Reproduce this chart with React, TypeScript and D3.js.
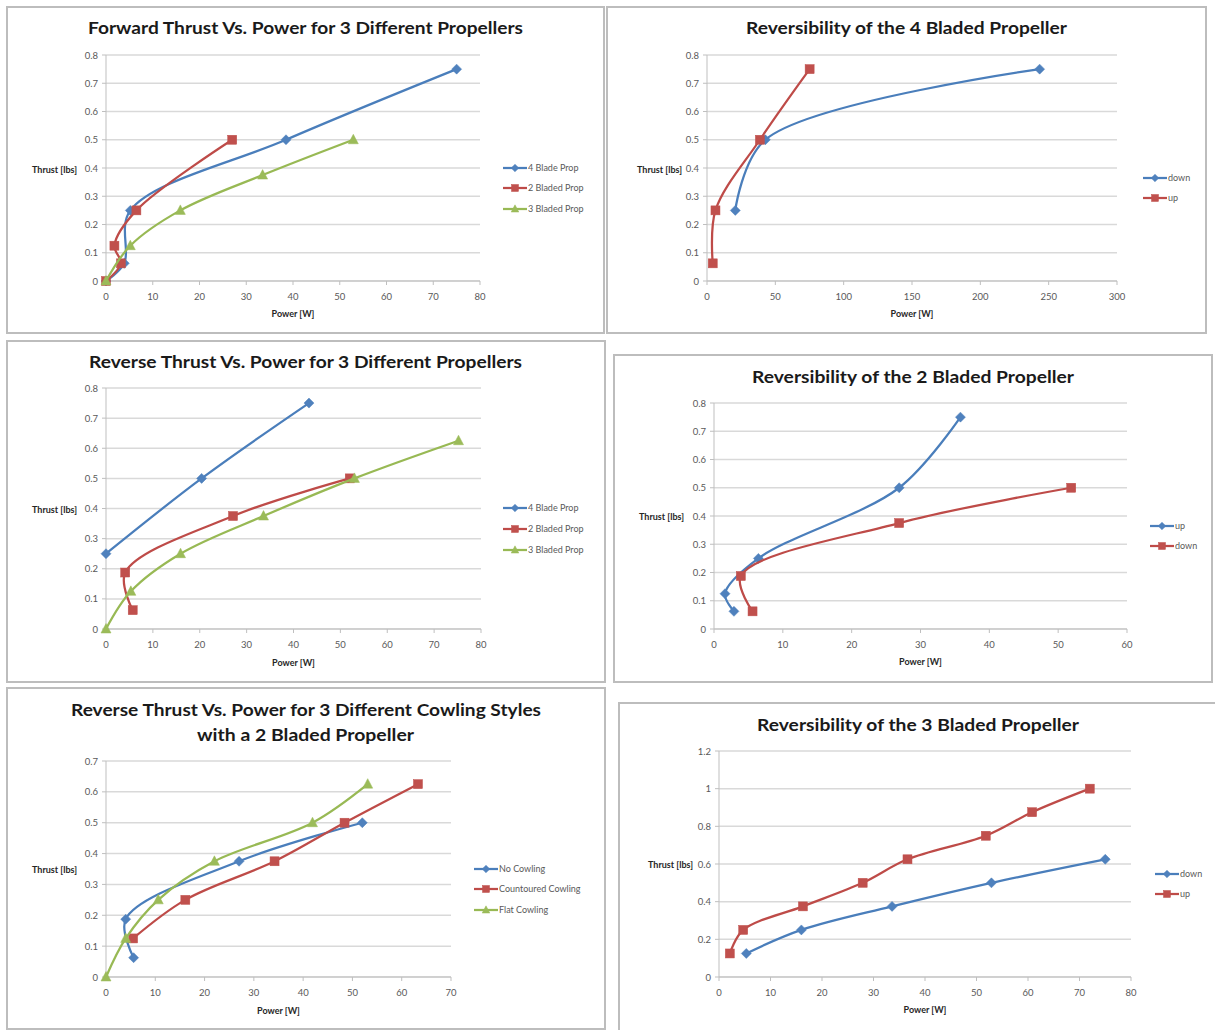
import React from 'react';
import * as d3 from 'd3';

// ---------- colours ----------
const BLUE_LINE = '#4A7EBB';
const BLUE_MK = '#4F81BD';
const RED_LINE = '#BE4B48';
const RED_MK = '#C0504D';
const GREEN_LINE = '#98B954';
const GREEN_MK = '#9BBB59';

// ---------- data: Forward thrust, 3 propellers ----------
const fwd4BladeX = [0, 3.9, 5.2, 38.5, 75];
const fwd4BladeY = [0, 0.0625, 0.25, 0.5, 0.75];
const fwd2BladedX = [0, 3.2, 1.8, 6.5, 27];
const fwd2BladedY = [0, 0.0625, 0.125, 0.25, 0.5];
const fwd3BladedX = [0, 5.2, 15.9, 33.5, 52.9];
const fwd3BladedY = [0, 0.125, 0.25, 0.375, 0.5];

// ---------- data: Reversibility 4 bladed ----------
const rev4DownX = [20.7, 42.7, 243.4];
const rev4DownY = [0.25, 0.5, 0.75];
const rev4UpX = [4.2, 6.2, 38.7, 75.1];
const rev4UpY = [0.0625, 0.25, 0.5, 0.75];

// ---------- data: Reverse thrust, 3 propellers ----------
const rvs4BladeX = [0, 20.4, 43.3];
const rvs4BladeY = [0.25, 0.5, 0.75];
const rvs2BladedX = [5.7, 4.1, 27.1, 52];
const rvs2BladedY = [0.0625, 0.1875, 0.375, 0.5];
const rvs3BladedX = [0, 5.3, 15.9, 33.6, 53, 75.2];
const rvs3BladedY = [0, 0.125, 0.25, 0.375, 0.5, 0.625];

// ---------- data: Reversibility 2 bladed ----------
const rev2UpX = [2.9, 1.6, 6.45, 26.9, 35.8];
const rev2UpY = [0.0625, 0.125, 0.25, 0.5, 0.75];
const rev2DownX = [5.6, 3.9, 26.9, 51.9];
const rev2DownY = [0.0625, 0.1875, 0.375, 0.5];

// ---------- data: Cowling styles ----------
const cowNoX = [5.6, 4.0, 27.0, 52.0];
const cowNoY = [0.0625, 0.1875, 0.375, 0.5];
const cowContX = [5.5, 16.1, 34.2, 48.4, 63.3];
const cowContY = [0.125, 0.25, 0.375, 0.5, 0.625];
const cowFlatX = [0, 4.0, 10.6, 22.0, 41.9, 53.1];
const cowFlatY = [0, 0.125, 0.25, 0.375, 0.5, 0.625];

// ---------- data: Reversibility 3 bladed ----------
const rev3DownX = [5.3, 16.0, 33.6, 52.9, 75.0];
const rev3DownY = [0.125, 0.25, 0.375, 0.5, 0.625];
const rev3UpX = [2.1, 4.7, 16.3, 27.9, 36.6, 51.8, 60.8, 72.0];
const rev3UpY = [0.125, 0.25, 0.375, 0.5, 0.625, 0.75, 0.875, 1.0];

// ---------- axis ticks ----------
const ticksX80 = [0, 10, 20, 30, 40, 50, 60, 70, 80];
const ticksX300 = [0, 50, 100, 150, 200, 250, 300];
const ticksX60 = [0, 10, 20, 30, 40, 50, 60];
const ticksX70 = [0, 10, 20, 30, 40, 50, 60, 70];
const ticksY08 = [0, 0.1, 0.2, 0.3, 0.4, 0.5, 0.6, 0.7, 0.8];
const ticksY07 = [0, 0.1, 0.2, 0.3, 0.4, 0.5, 0.6, 0.7];
const ticksY12 = [0, 0.2, 0.4, 0.6, 0.8, 1.0, 1.2];

const titles1 = ['Forward Thrust Vs. Power for 3 Different Propellers'];
const titles2 = ['Reversibility of the 4 Bladed Propeller'];
const titles3 = ['Reverse Thrust Vs. Power for 3 Different Propellers'];
const titles4 = ['Reversibility of the 2 Bladed Propeller'];
const titles5 = ['Reverse Thrust Vs. Power for 3 Different Cowling Styles', 'with a 2 Bladed Propeller'];
const titles6 = ['Reversibility of the 3 Bladed Propeller'];

type Shape = 'diamond' | 'square' | 'triangle';
type Series = { name: string; xs: number[]; ys: number[]; line: string; mk: string; shape: Shape };

const S = (name: string, xs: number[], ys: number[], kind: 'b' | 'r' | 'g'): Series => ({
  name,
  xs,
  ys,
  line: kind === 'b' ? BLUE_LINE : kind === 'r' ? RED_LINE : GREEN_LINE,
  mk: kind === 'b' ? BLUE_MK : kind === 'r' ? RED_MK : GREEN_MK,
  shape: kind === 'b' ? 'diamond' : kind === 'r' ? 'square' : 'triangle',
});

type Panel = {
  box: [number, number, number, number];
  plot: [number, number, number, number]; // x0, x1, yTop, yBottom
  xMax: number;
  yMax: number;
  xTicks: number[];
  yTicks: number[];
  titles: string[];
  titleLayout: { cx: number; cy: number; w: number }[];
  yTitle: { xEnd: number; y: number };
  xTitleY: number;
  legend: { x: number; y: number[] };
  series: Series[];
};

const panels: Panel[] = [
  {
    box: [7, 7, 597, 326],
    plot: [106, 480, 55, 281],
    xMax: 80, yMax: 0.8, xTicks: ticksX80, yTicks: ticksY08,
    titles: titles1,
    titleLayout: [{ cx: 305.5, cy: 28, w: 435 }],
    yTitle: { xEnd: 77, y: 169 }, xTitleY: 313,
    legend: { x: 503, y: [168, 188, 209] },
    series: [
      S('4 Blade Prop', fwd4BladeX, fwd4BladeY, 'b'),
      S('2 Bladed Prop', fwd2BladedX, fwd2BladedY, 'r'),
      S('3 Bladed Prop', fwd3BladedX, fwd3BladedY, 'g'),
    ],
  },
  {
    box: [607, 7, 599, 326],
    plot: [707, 1117, 55, 281],
    xMax: 300, yMax: 0.8, xTicks: ticksX300, yTicks: ticksY08,
    titles: titles2,
    titleLayout: [{ cx: 906.5, cy: 28, w: 321 }],
    yTitle: { xEnd: 682, y: 169 }, xTitleY: 313,
    legend: { x: 1143, y: [178, 198] },
    series: [
      S('down', rev4DownX, rev4DownY, 'b'),
      S('up', rev4UpX, rev4UpY, 'r'),
    ],
  },
  {
    box: [7, 341, 598, 341],
    plot: [106, 481, 388, 629],
    xMax: 80, yMax: 0.8, xTicks: ticksX80, yTicks: ticksY08,
    titles: titles3,
    titleLayout: [{ cx: 305.5, cy: 362, w: 433 }],
    yTitle: { xEnd: 77, y: 509 }, xTitleY: 662,
    legend: { x: 503, y: [508, 529, 550] },
    series: [
      S('4 Blade Prop', rvs4BladeX, rvs4BladeY, 'b'),
      S('2 Bladed Prop', rvs2BladedX, rvs2BladedY, 'r'),
      S('3 Bladed Prop', rvs3BladedX, rvs3BladedY, 'g'),
    ],
  },
  {
    box: [614, 355, 598, 327],
    plot: [714, 1127, 403, 629],
    xMax: 60, yMax: 0.8, xTicks: ticksX60, yTicks: ticksY08,
    titles: titles4,
    titleLayout: [{ cx: 913, cy: 377, w: 322 }],
    yTitle: { xEnd: 684, y: 516 }, xTitleY: 661,
    legend: { x: 1150, y: [526, 546] },
    series: [
      S('up', rev2UpX, rev2UpY, 'b'),
      S('down', rev2DownX, rev2DownY, 'r'),
    ],
  },
  {
    box: [7, 688, 598, 341],
    plot: [106, 451, 761, 977],
    xMax: 70, yMax: 0.7, xTicks: ticksX70, yTicks: ticksY07,
    titles: titles5,
    titleLayout: [{ cx: 306, cy: 710, w: 470 }, { cx: 305.5, cy: 735, w: 217 }],
    yTitle: { xEnd: 77, y: 869 }, xTitleY: 1010,
    legend: { x: 474, y: [869, 889, 910] },
    series: [
      S('No Cowling', cowNoX, cowNoY, 'b'),
      S('Countoured Cowling', cowContX, cowContY, 'r'),
      S('Flat Cowling', cowFlatX, cowFlatY, 'g'),
    ],
  },
  {
    box: [619, 703, 600, 330],
    plot: [719, 1131, 751, 977],
    xMax: 80, yMax: 1.2, xTicks: ticksX80, yTicks: ticksY12,
    titles: titles6,
    titleLayout: [{ cx: 918, cy: 725, w: 322 }],
    yTitle: { xEnd: 693, y: 864 }, xTitleY: 1009,
    legend: { x: 1155, y: [874, 894] },
    series: [
      S('down', rev3DownX, rev3DownY, 'b'),
      S('up', rev3UpX, rev3UpY, 'r'),
    ],
  },
];

const FONT = 'Lato, "Open Sans", "DejaVu Sans", sans-serif';

function Marker({ shape, x, y, color, s }: { shape: Shape; x: number; y: number; color: string; s: number }) {
  if (shape === 'diamond') {
    return <path d={`M${x},${y - s}L${x + s},${y}L${x},${y + s}L${x - s},${y}Z`} fill={color} stroke={color} strokeWidth={0.5} />;
  }
  if (shape === 'square') {
    return <rect x={x - s} y={y - s} width={2 * s} height={2 * s} fill={color} stroke={color} strokeWidth={0.5} />;
  }
  return (
    <path
      d={`M${x},${y - s * 1.1}L${x + s},${y + s * 0.8}L${x - s},${y + s * 0.8}Z`}
      fill={color}
      stroke={color}
      strokeWidth={0.5}
    />
  );
}

function fmtY(v: number) {
  return String(+v.toFixed(1));
}

function PanelView({ p }: { p: Panel }) {
  const [x0, x1, yT, yB] = p.plot;
  const xs = d3.scaleLinear().domain([0, p.xMax]).range([x0, x1]);
  const ys = d3.scaleLinear().domain([0, p.yMax]).range([yB, yT]);
  const line = d3
    .line<[number, number]>()
    .x((d) => xs(d[0]))
    .y((d) => ys(d[1]))
    .curve(d3.curveCatmullRom.alpha(0.5));
  const [bx, by, bw, bh] = p.box;
  return (
    <g>
      <rect x={bx} y={by} width={bw} height={bh} fill="#fff" stroke="#bdbdbd" strokeWidth={2} />
      {/* gridlines */}
      {p.yTicks.map((t) => (
        <line key={'g' + t} x1={x0} x2={x1} y1={ys(t)} y2={ys(t)} stroke="#d9d9d9" strokeWidth={1.5} />
      ))}
      {/* axes */}
      <line x1={x0} x2={x0} y1={yT} y2={yB} stroke="#bfbfbf" strokeWidth={1} />
      <line x1={x0} x2={x1} y1={yB} y2={yB} stroke="#bfbfbf" strokeWidth={1} />
      {p.yTicks.map((t) => (
        <line key={'yt' + t} x1={x0 - 4} x2={x0} y1={ys(t)} y2={ys(t)} stroke="#bfbfbf" strokeWidth={1} />
      ))}
      {p.xTicks.map((t) => (
        <line key={'xt' + t} x1={xs(t)} x2={xs(t)} y1={yB} y2={yB + 4} stroke="#bfbfbf" strokeWidth={1} />
      ))}
      {/* tick labels */}
      {p.yTicks.map((t) => (
        <text key={'yl' + t} x={x0 - 8} y={ys(t) + 3.5} textAnchor="end" fontSize={9.5} fill="#595959" fontFamily={FONT}>
          {fmtY(t)}
        </text>
      ))}
      {p.xTicks.map((t) => (
        <text key={'xl' + t} x={xs(t)} y={yB + 18.5} textAnchor="middle" fontSize={9.5} fill="#595959" fontFamily={FONT}>
          {t}
        </text>
      ))}
      {/* axis titles */}
      <text x={p.yTitle.xEnd} y={p.yTitle.y + 3.5} textAnchor="end" fontSize={9} fontWeight="bold" fill="#262626" fontFamily={FONT}>
        Thrust [lbs]
      </text>
      <text x={(x0 + x1) / 2} y={p.xTitleY + 3.5} textAnchor="middle" fontSize={9} fontWeight="bold" fill="#262626" fontFamily={FONT}>
        Power [W]
      </text>
      {/* title */}
      {p.titles.map((t, i) => (
        <text
          key={'t' + i}
          x={p.titleLayout[i].cx}
          y={p.titleLayout[i].cy + 6}
          textAnchor="middle"
          fontSize={17}
          fontWeight="bold"
          fill="#1a1a1a"
          fontFamily={FONT}
          textLength={p.titleLayout[i].w}
          lengthAdjust="spacingAndGlyphs"
        >
          {t}
        </text>
      ))}
      {/* series */}
      {p.series.map((s, si) => {
        const pts = s.xs.map((x, i) => [x, s.ys[i]] as [number, number]);
        return (
          <g key={'s' + si}>
            <path d={line(pts) || ''} fill="none" stroke={s.line} strokeWidth={2.25} strokeLinejoin="round" />
            {pts.map((d, i) => (
              <Marker key={i} shape={s.shape} x={xs(d[0])} y={ys(d[1])} color={s.mk} s={s.shape === 'square' ? 4.5 : 5} />
            ))}
          </g>
        );
      })}
      {/* legend */}
      {p.series.map((s, i) => {
        const ly = p.legend.y[i];
        const lx = p.legend.x;
        return (
          <g key={'lg' + i}>
            <line x1={lx} x2={lx + 24} y1={ly} y2={ly} stroke={s.line} strokeWidth={2.25} />
            <Marker shape={s.shape} x={lx + 12} y={ly} color={s.mk} s={s.shape === 'square' ? 3.5 : 3.8} />
            <text x={lx + 25} y={ly + 3.2} fontSize={9} fill="#595959" fontFamily={FONT}>
              {s.name}
            </text>
          </g>
        );
      })}
    </g>
  );
}

export default function App() {
  return (
    <svg
      width={1215}
      height={1030}
      viewBox="0 0 1215 1030"
      style={{ position: 'absolute', left: 0, top: 0, background: '#fff' }}
    >
      <rect x={0} y={0} width={1215} height={1030} fill="#fff" />
      {panels.map((p, i) => (
        <PanelView key={i} p={p} />
      ))}
    </svg>
  );
}
